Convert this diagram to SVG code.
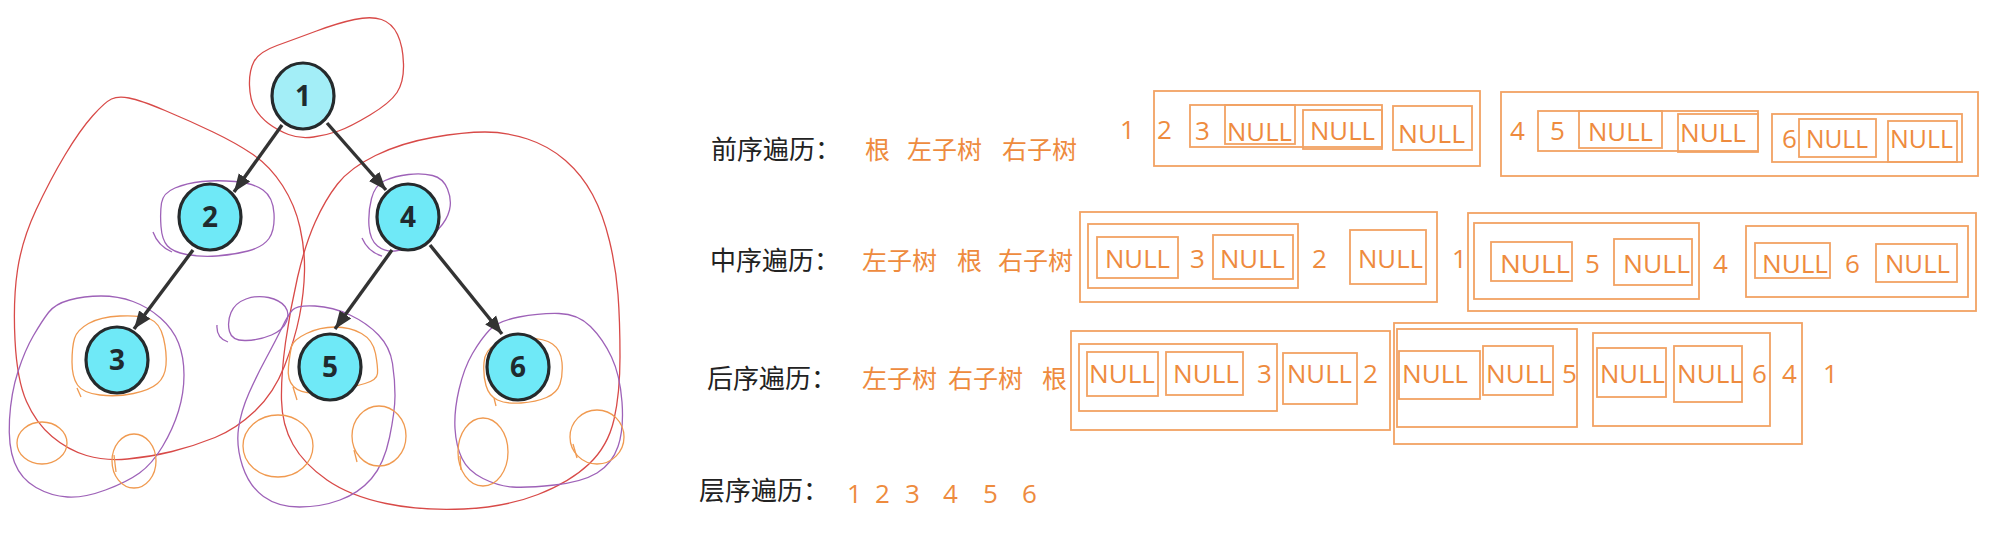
<svg xmlns="http://www.w3.org/2000/svg" width="1992" height="558" viewBox="0 0 1992 558">
<style>
.node ellipse{fill:#6FE9F7;stroke:#252a2c;stroke-width:3.2}
.node.root ellipse{fill:#A3EEF7}
.node text{font-family:"Noto Sans","DejaVu Sans",sans-serif;font-weight:bold;font-size:28px;fill:#1f2a2e;text-anchor:middle}
.edge{stroke:#333;stroke-width:3.4;fill:none;marker-end:url(#arrow)}
.red{fill:none;stroke:#D84A48;stroke-width:1.3}
.pur{fill:none;stroke:#9E62B8;stroke-width:1.3}
.org{fill:none;stroke:#F09A50;stroke-width:1.3}
.lbl{font-family:"Noto Sans CJK SC","Noto Sans",sans-serif;font-size:26px;fill:#222}
.cn{font-family:"Noto Sans CJK SC","Noto Sans",sans-serif;font-size:25px;fill:#EE8B3E}
.t{font-family:"Open Sans","Noto Sans","Noto Sans CJK SC",sans-serif;font-size:26px;fill:#EE8B3E}
.box{fill:none;stroke:#F2A263;stroke-width:1.8}
</style>
<defs>
<marker id="arrow" markerUnits="userSpaceOnUse" markerWidth="20" markerHeight="16" refX="18" refY="8" orient="auto">
<path d="M0,1 L18,8 L0,15 z" fill="#333"/>
</marker>
</defs>
<rect width="1992" height="558" fill="#fff"/>

<g id="annotations">
<path class="red" d="M313.5,137 Q300,139 288.5,134.5 Q277,130 268.5,123.5 Q260,117 255,108.5 Q250,100 249.5,85.5 Q249,71 254,61.5 Q259,52 277,45.5 Q295,39 316.5,31 Q338,23 354.5,19.5 Q371,16 381.5,19.5 Q392,23 397.5,34.5 Q403,46 403.5,64 Q404,82 397,92.5 Q390,103 370,115 Q350,127 338.5,131 Q327,135 313.5,137 Z"/>
<path class="red" d="M111.5,99 Q118,96 129,98 Q140,100 165,110.5 Q190,121 213,132 Q236,143 253,154.5 Q270,166 282.5,185.5 Q295,205 300,227.5 Q305,250 304.5,271.5 Q304,293 299.5,316 Q295,339 284.5,366 Q274,393 255,411 Q236,429 215,437.5 Q194,446 172,451.5 Q150,457 127.5,459 Q105,461 86.5,455.5 Q68,450 52,436.5 Q36,423 26.5,401.5 Q17,380 15,340 Q13,300 17.5,270 Q22,240 36,210 Q50,180 65,155 Q80,130 92.5,116 Q105,102 111.5,99 Z"/>
<path class="red" d="M337.5,184 Q350,168 375.5,155.5 Q401,143 432.5,137.5 Q464,132 485,132 Q506,132 527.5,139 Q549,146 565.5,160.5 Q582,175 592.5,194.5 Q603,214 609.5,241 Q616,268 618,294.5 Q620,321 620,357 Q620,393 614,419.5 Q608,446 589,464 Q570,482 538,494.5 Q506,507 464,509 Q422,511 386,503.5 Q350,496 327,480 Q304,464 293,444.5 Q282,425 281.5,400 Q281,375 285.5,342.5 Q290,310 297.5,277.5 Q305,245 315,222.5 Q325,200 337.5,184 Z"/>
<path class="pur" d="M161.5,203 Q163,193 175,188 Q187,183 202,181.5 Q217,180 235,181.5 Q253,183 263,190 Q273,197 274,213.5 Q275,230 269,238.5 Q263,247 248,251 Q233,255 216.5,256 Q200,257 186.5,254.5 Q173,252 167.5,246 Q162,240 161,226.5 Q160,213 161.5,203 Z M153,232 Q158,246 172,252"/>
<path class="pur" d="M371.5,198.5 Q375,185 385,180.5 Q395,176 408.5,174.5 Q422,173 432.5,175.5 Q443,178 447.5,189 Q452,200 449.5,210 Q447,220 438.5,229 Q430,238 417.5,244 Q405,250 395,251 Q385,252 377.5,246 Q370,240 369,226 Q368,212 371.5,198.5 Z M362,238 Q368,252 382,256"/>
<path class="pur" d="M229.5,331.5 Q232,341 246,340.5 Q260,340 271.5,335 Q283,330 286.5,321.5 Q290,313 285,306.5 Q280,300 268.5,297.5 Q257,295 246,299 Q235,303 231,312.5 Q227,322 229.5,331.5 Z M217,325 Q216,338 228,342"/>
<path class="pur" d="M48.5,312.5 Q55,304 69.5,300 Q84,296 101,296 Q118,296 133,301.5 Q148,307 160.5,318 Q173,329 178.5,343 Q184,357 184,375 Q184,393 178.5,411 Q173,429 162.5,446.5 Q152,464 139.5,473 Q127,482 105.5,490 Q84,498 67.5,497 Q51,496 36,487.5 Q21,479 14.5,462.5 Q8,446 9.5,419.5 Q11,393 18,371.5 Q25,350 33.5,335.5 Q42,321 48.5,312.5 Z"/>
<path class="pur" d="M292.5,310 Q297,305 315,306 Q333,307 350,315 Q367,323 378.5,335 Q390,347 392.5,363.5 Q395,380 395,395.5 Q395,411 389.5,437.5 Q384,464 371.5,478.5 Q359,493 340,500 Q321,507 299.5,507 Q278,507 263.5,496.5 Q249,486 242.5,466 Q236,446 238.5,428.5 Q241,411 249,393 Q257,375 266.5,357.5 Q276,340 282,327.5 Q288,315 292.5,310 Z"/>
<path class="pur" d="M489.5,330 Q498,321 519,317 Q540,313 559,313.5 Q578,314 590.5,326.5 Q603,339 611.5,357 Q620,375 622,402 Q624,429 618,446.5 Q612,464 597,473 Q582,482 554.5,485 Q527,488 512.5,487 Q498,486 483,478.5 Q468,471 462,458.5 Q456,446 455,428.5 Q454,411 459,389.5 Q464,368 472.5,353.5 Q481,339 489.5,330 Z"/>
<path class="org" d="M74.5,338.5 Q77,330 88.5,323.5 Q100,317 120,316 Q140,315 150,319 Q160,323 163.5,338 Q167,353 166,365 Q165,377 157.5,383.5 Q150,390 133.5,393.5 Q117,397 100,395 Q83,393 77.5,385 Q72,377 72,362 Q72,347 74.5,338.5 Z M77,388 L81,397"/>
<path class="org" d="M291.5,346.5 Q293,340 306.5,333.5 Q320,327 335,327 Q350,327 361.5,333.5 Q373,340 375.5,353.5 Q378,367 377.5,373.5 Q377,380 365,383.5 Q353,387 340,390 Q327,393 313.5,393 Q300,393 293.5,386.5 Q287,380 288.5,366.5 Q290,353 291.5,346.5 Z M293,387 L297,400"/>
<path class="org" d="M484,362.5 Q485,350 495.5,344.5 Q506,339 525,338.5 Q544,338 552.5,344 Q561,350 562,362.5 Q563,375 560,384 Q557,393 546.5,397.5 Q536,402 521,403 Q506,404 497.5,400 Q489,396 486,385.5 Q483,375 484,362.5 Z M494,398 L496,406"/>
<ellipse class="org" cx="42" cy="443" rx="25" ry="21"/>
<ellipse class="org" cx="134" cy="461" rx="22" ry="27"/>
<path class="org" d="M114,455 L116,472"/>
<ellipse class="org" cx="278" cy="446" rx="35" ry="31"/>
<ellipse class="org" cx="379" cy="436" rx="27" ry="30"/>
<path class="org" d="M354,450 L357,462"/>
<ellipse class="org" cx="483" cy="452" rx="25" ry="34"/>
<path class="org" d="M460,456 L461,470"/>
<ellipse class="org" cx="597" cy="437" rx="27" ry="27"/>
<path class="org" d="M573,444 L577,458"/>
</g>

<g id="connectors">
<line class="edge" x1="282" y1="125" x2="234" y2="192"/>
<line class="edge" x1="327" y1="123" x2="386" y2="190"/>
<line class="edge" x1="193" y1="250" x2="134" y2="329"/>
<line class="edge" x1="392" y1="250" x2="335" y2="329"/>
<line class="edge" x1="430" y1="245" x2="502" y2="334"/>
</g>

<g id="node1" class="node root"><ellipse cx="303" cy="96" rx="31" ry="33"/><text x="303" y="106">1</text></g>
<g id="node2" class="node"><ellipse cx="210" cy="217" rx="31" ry="33"/><text x="210" y="227">2</text></g>
<g id="node4" class="node"><ellipse cx="408" cy="217" rx="31" ry="33"/><text x="408" y="227">4</text></g>
<g id="node3" class="node"><ellipse cx="117" cy="360" rx="31" ry="33"/><text x="117" y="370">3</text></g>
<g id="node5" class="node"><ellipse cx="330" cy="367" rx="31" ry="33"/><text x="330" y="377">5</text></g>
<g id="node6" class="node"><ellipse cx="518" cy="367" rx="31" ry="33"/><text x="518" y="377">6</text></g>

<g id="labels">
<text class="lbl" x="711" y="159">前序遍历：</text>
<text class="lbl" x="710" y="270">中序遍历：</text>
<text class="lbl" x="707" y="388">后序遍历：</text>
<text class="lbl" x="699" y="500">层序遍历：</text>
<text class="cn" x="865" y="159">根</text>
<text class="cn" x="907" y="159">左子树</text>
<text class="cn" x="1002" y="159">右子树</text>
<text class="cn" x="862" y="270">左子树</text>
<text class="cn" x="957" y="270">根</text>
<text class="cn" x="998" y="270">右子树</text>
<text class="cn" x="862" y="388">左子树</text>
<text class="cn" x="948" y="388">右子树</text>
<text class="cn" x="1042" y="388">根</text>
</g>

<g id="preorder">
<rect class="box" x="1154" y="91" width="326" height="75"/>
<rect class="box" x="1190" y="105" width="192" height="42"/>
<rect class="box" x="1225" y="105" width="70" height="39"/>
<rect class="box" x="1303" y="110" width="79" height="39"/>
<rect class="box" x="1393" y="106" width="79" height="44"/>
<rect class="box" x="1501" y="92" width="477" height="84"/>
<rect class="box" x="1538" y="111" width="220" height="40"/>
<rect class="box" x="1579" y="111" width="83" height="37"/>
<rect class="box" x="1678" y="114" width="80" height="38"/>
<rect class="box" x="1772" y="114" width="190" height="48"/>
<rect class="box" x="1799" y="119" width="77" height="38"/>
<rect class="box" x="1888" y="121" width="69" height="41"/>
<text class="t" x="1120" y="139">1</text>
<text class="t" x="1157" y="139">2</text>
<text class="t" x="1195" y="140">3</text>
<text class="t" x="1227" y="141" textLength="65" lengthAdjust="spacingAndGlyphs">NULL</text>
<text class="t" x="1310" y="140" textLength="65" lengthAdjust="spacingAndGlyphs">NULL</text>
<text class="t" x="1398" y="143" textLength="67" lengthAdjust="spacingAndGlyphs">NULL</text>
<text class="t" x="1510" y="140">4</text>
<text class="t" x="1550" y="140">5</text>
<text class="t" x="1588" y="141" textLength="65" lengthAdjust="spacingAndGlyphs">NULL</text>
<text class="t" x="1680" y="142" textLength="66" lengthAdjust="spacingAndGlyphs">NULL</text>
<text class="t" x="1782" y="148">6</text>
<text class="t" x="1806" y="148" textLength="62" lengthAdjust="spacingAndGlyphs">NULL</text>
<text class="t" x="1890" y="148" textLength="63" lengthAdjust="spacingAndGlyphs">NULL</text>
</g>

<g id="inorder">
<rect class="box" x="1080" y="212" width="357" height="90"/>
<rect class="box" x="1088" y="224" width="210" height="64"/>
<rect class="box" x="1097" y="237" width="81" height="41"/>
<rect class="box" x="1213" y="235" width="80" height="44"/>
<rect class="box" x="1350" y="230" width="76" height="54"/>
<rect class="box" x="1468" y="213" width="508" height="98"/>
<rect class="box" x="1474" y="223" width="225" height="76"/>
<rect class="box" x="1491" y="242" width="81" height="39"/>
<rect class="box" x="1614" y="239" width="78" height="46"/>
<rect class="box" x="1746" y="226" width="222" height="71"/>
<rect class="box" x="1755" y="243" width="75" height="35"/>
<rect class="box" x="1876" y="244" width="81" height="38"/>
<text class="t" x="1105" y="268" textLength="65" lengthAdjust="spacingAndGlyphs">NULL</text>
<text class="t" x="1190" y="268">3</text>
<text class="t" x="1220" y="268" textLength="65" lengthAdjust="spacingAndGlyphs">NULL</text>
<text class="t" x="1312" y="268">2</text>
<text class="t" x="1358" y="268" textLength="65" lengthAdjust="spacingAndGlyphs">NULL</text>
<text class="t" x="1452" y="268">1</text>
<text class="t" x="1500" y="273" textLength="70" lengthAdjust="spacingAndGlyphs">NULL</text>
<text class="t" x="1585" y="273">5</text>
<text class="t" x="1623" y="273" textLength="67" lengthAdjust="spacingAndGlyphs">NULL</text>
<text class="t" x="1713" y="273">4</text>
<text class="t" x="1762" y="273" textLength="66" lengthAdjust="spacingAndGlyphs">NULL</text>
<text class="t" x="1845" y="273">6</text>
<text class="t" x="1885" y="273" textLength="65" lengthAdjust="spacingAndGlyphs">NULL</text>
</g>

<g id="postorder">
<rect class="box" x="1071" y="331" width="319" height="99"/>
<rect class="box" x="1079" y="344" width="198" height="67"/>
<rect class="box" x="1087" y="352" width="71" height="44"/>
<rect class="box" x="1166" y="352" width="77" height="43"/>
<rect class="box" x="1283" y="353" width="74" height="51"/>
<rect class="box" x="1394" y="323" width="408" height="121"/>
<rect class="box" x="1397" y="329" width="180" height="98"/>
<rect class="box" x="1399" y="351" width="81" height="48"/>
<rect class="box" x="1483" y="346" width="70" height="49"/>
<rect class="box" x="1593" y="333" width="177" height="93"/>
<rect class="box" x="1597" y="348" width="69" height="49"/>
<rect class="box" x="1674" y="346" width="68" height="56"/>
<text class="t" x="1089" y="383" textLength="66" lengthAdjust="spacingAndGlyphs">NULL</text>
<text class="t" x="1173" y="383" textLength="66" lengthAdjust="spacingAndGlyphs">NULL</text>
<text class="t" x="1257" y="383">3</text>
<text class="t" x="1287" y="383" textLength="65" lengthAdjust="spacingAndGlyphs">NULL</text>
<text class="t" x="1363" y="383">2</text>
<text class="t" x="1402" y="383" textLength="66" lengthAdjust="spacingAndGlyphs">NULL</text>
<text class="t" x="1486" y="383" textLength="66" lengthAdjust="spacingAndGlyphs">NULL</text>
<text class="t" x="1562" y="383">5</text>
<text class="t" x="1600" y="383" textLength="65" lengthAdjust="spacingAndGlyphs">NULL</text>
<text class="t" x="1677" y="383" textLength="66" lengthAdjust="spacingAndGlyphs">NULL</text>
<text class="t" x="1752" y="383">6</text>
<text class="t" x="1782" y="383">4</text>
<text class="t" x="1823" y="383">1</text>
</g>

<g id="levelorder">
<text class="t" x="847" y="503">1</text>
<text class="t" x="875" y="503">2</text>
<text class="t" x="905" y="503">3</text>
<text class="t" x="943" y="503">4</text>
<text class="t" x="983" y="503">5</text>
<text class="t" x="1022" y="503">6</text>
</g>
</svg>
